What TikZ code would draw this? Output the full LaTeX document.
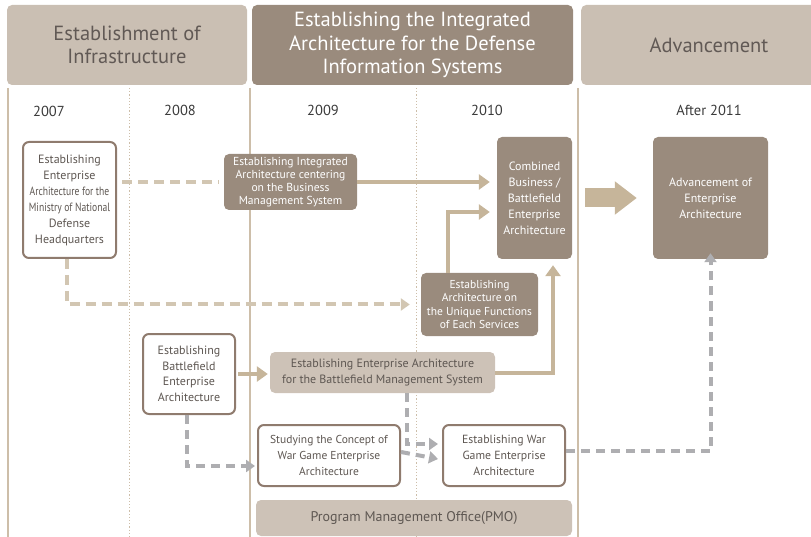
\documentclass[tikz,border=0pt]{standalone}
\usepackage{fontspec}
\setmainfont{PT Sans}
\newfontfamily\narrowfont[FakeStretch=0.8]{PT Sans}
\usetikzlibrary{arrows.meta}
\definecolor{hdrlight}{HTML}{CABFB3}
\definecolor{hdrdark}{HTML}{9A8B7D}
\definecolor{boxlight}{HTML}{CDC2B7}
\definecolor{bordc}{HTML}{8F7B6E}
\definecolor{arrc}{HTML}{C6B59A}
\definecolor{dashc}{HTML}{D2C6B2}
\definecolor{grayc}{HTML}{AEAEB1}
\definecolor{linec}{HTML}{CDBEA9}
\definecolor{hdrtext}{HTML}{615955}
\definecolor{boxtext}{HTML}{5E5752}
\definecolor{yeartext}{HTML}{3A3A3A}
\tikzset{
  hdr/.style={rounded corners=5pt, inner sep=0pt, align=center, font=\fontsize{20.5}{23.5}\selectfont},
  darkbox/.style={fill=hdrdark, rounded corners=5pt, text=white, align=center, inner sep=0pt},
  whitebox/.style={fill=white, draw=bordc, line width=2pt, rounded corners=6pt, text=boxtext, align=center, inner sep=0pt},
  lightbox/.style={fill=boxlight, rounded corners=5pt, text=boxtext, align=center, inner sep=0pt},
  yearlbl/.style={text=yeartext, font=\fontsize{14.5}{16}\selectfont, inner sep=0pt},
  divsolid/.style={draw=linec, line width=1.3pt},
  divdot/.style={draw=linec, line width=0.9pt, dash pattern=on 1.2pt off 2pt},
  tarrow/.style={draw=arrc, line width=4pt, -{Triangle[length=11pt,width=15pt]}},
  tandash/.style={draw=dashc, line width=4pt, dash pattern=on 10pt off 6pt},
  graydash/.style={draw=grayc, line width=4pt, dash pattern=on 9pt off 6pt, -{Triangle[length=9pt,width=12pt]}},
}
\begin{document}
\begin{tikzpicture}[x=1pt,y=-1pt]
\useasboundingbox (0,0) rectangle (811,537);
\clip (0,0) rectangle (811,537);
% dividers
\draw[divsolid] (8,88) -- (8,537);
\draw[divsolid] (250,88) -- (250,537);
\draw[divsolid] (578,88) -- (578,537);
\draw[divdot] (129.5,88) -- (129.5,537);
\draw[divdot] (416.5,88) -- (416.5,537);
% headers
\node[hdr, fill=hdrlight, text=hdrtext, minimum width=240, minimum height=80] (h1) at (127,45) {Establishment of\\Infrastructure};
\node[hdr, fill=hdrdark, text=white, minimum width=321, minimum height=80] (h2) at (412.5,45) {Establishing the Integrated\\Architecture for the Defense\\Information Systems};
\node[hdr, fill=hdrlight, text=hdrtext, minimum width=236, minimum height=80, anchor=west] (h3) at (581,45) {};
\node[hdr, text=hdrtext] (h3t) at (709,45) {Advancement};
% years
\node[yearlbl] (y1) at (49,111) {2007};
\node[yearlbl] (y2) at (180,110) {2008};
\node[yearlbl] (y3) at (323,110) {2009};
\node[yearlbl] (y4) at (487,110) {2010};
\node[yearlbl] (y5) at (709,110) {After 2011};
% boxes
\node[whitebox, minimum width=93, minimum height=116, font=\fontsize{12}{16}\selectfont] (mnd) at (69.5,200)
  {Establishing\\Enterprise\\{\narrowfont Architecture for the}\\{\narrowfont Ministry of National}\\Defense\\Headquarters};
\node[darkbox, minimum width=133, minimum height=56, font=\fontsize{11.6}{13}\selectfont] (ia) at (290.5,182)
  {Establishing Integrated\\Architecture centering\\on the Business\\Management System};
\node[darkbox, minimum width=75, minimum height=122, font=\fontsize{12}{16}\selectfont] (comb) at (534.5,198)
  {Combined\\Business /\\Battlefield\\Enterprise\\Architecture};
\node[darkbox, minimum width=115, minimum height=122, font=\fontsize{12}{16}\selectfont] (adv) at (710.5,198)
  {Advancement of\\Enterprise\\Architecture};
\node[darkbox, minimum width=117, minimum height=63, font=\fontsize{11.5}{13.5}\selectfont] (uniq) at (479.5,304.5)
  {Establishing\\Architecture on\\the Unique Functions\\of Each Services};
\node[whitebox, minimum width=92, minimum height=80, font=\fontsize{12}{15.5}\selectfont] (bea) at (189,374)
  {Establishing\\Battlefield\\Enterprise\\Architecture};
\node[lightbox, minimum width=225, minimum height=41, font=\fontsize{12}{16}\selectfont] (bms) at (382.5,372.5)
  {Establishing Enterprise Architecture\\for the Battlefield Management System};
\node[whitebox, minimum width=142, minimum height=61, font=\fontsize{11.5}{16}\selectfont] (study) at (329,455.5)
  {Studying the Concept of\\War Game Enterprise\\Architecture};
\node[whitebox, minimum width=122, minimum height=61, font=\fontsize{11.8}{16}\selectfont] (war) at (504,455.5)
  {Establishing War\\Game Enterprise\\Architecture};
\node[lightbox, minimum width=316, minimum height=36, font=\fontsize{14}{16}\selectfont] (pmo) at (414,518)
  {Program Management Office(PMO)};
% connectors
\draw[tandash] ([xshift=5]mnd.east |- ia.west) -- ([xshift=-5]ia.west);
\draw[tarrow] (ia.east) -- ([xshift=-7]comb.west |- ia.east);
\draw[tarrow] ([xshift=-32]uniq.north) |- ([shift={(-7,14)}]comb.west);
\draw[tarrow] (bms.east) -| ([shift={(18.5,6)}]comb.south);
\draw[tandash, -{Triangle[length=9pt,width=12pt]}] ([xshift=-2.5]mnd.south) |- ([xshift=-11]uniq.west);
\draw[tarrow] ([xshift=2]bea.east) -- ([xshift=-2]bms.west |- bea.east);
\draw[draw=arrc, line width=19pt, -{Triangle[length=22pt,width=32pt]}] ([xshift=13]comb.east) -- ([xshift=-16]adv.west);
\draw[graydash] ([xshift=-2]bea.south) |- ([shift={(-2,10.5)}]study.west);
\draw[graydash] ([xshift=24.5]bms.south) |- ([shift={(-4,-11.5)}]war.west);
\draw[graydash] ([yshift=3.5]study.east) -- ([shift={(-4,3.5)}]war.west);
\draw[graydash] ([yshift=4.5]war.east) -| ([yshift=6]adv.south);
\end{tikzpicture}
\end{document}
